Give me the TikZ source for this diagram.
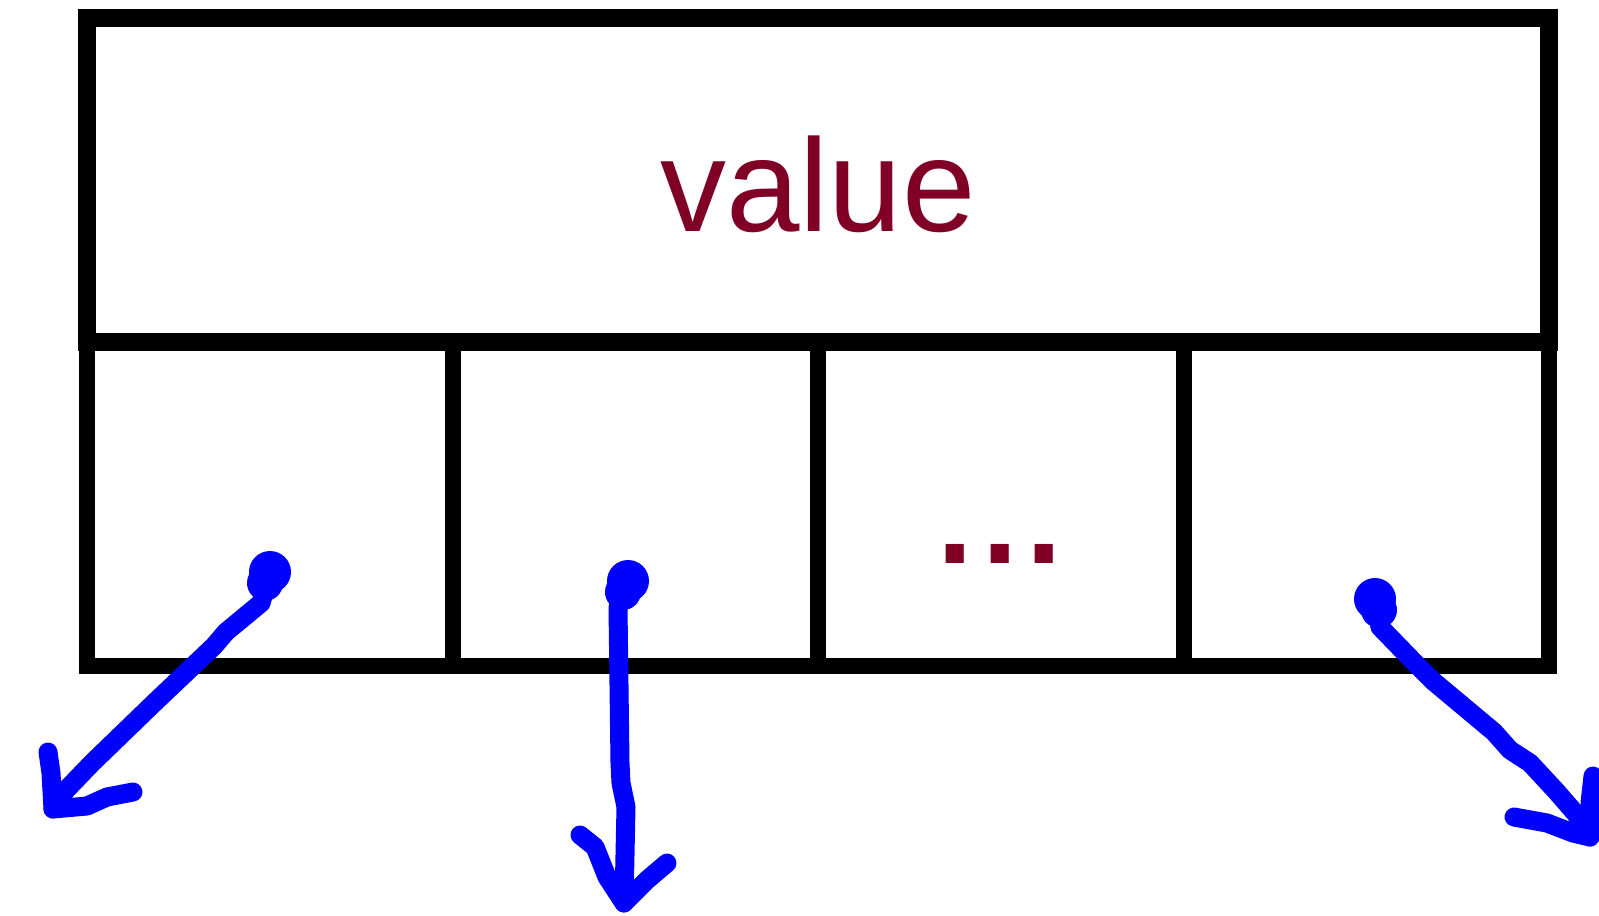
\documentclass[tikz,border=0pt]{standalone}
\usepackage{fontspec}
\setmainfont{Liberation Sans}
\definecolor{maroon}{RGB}{128,0,38}
\definecolor{pen}{RGB}{0,0,255}
\begin{document}
\begin{tikzpicture}[x=1pt,y=-1pt,
  topbox/.style={draw=black, line width=18pt, rectangle, minimum width=1462pt, minimum height=324.5pt, inner sep=0pt, text=maroon, text height=103pt, text depth=0pt, font=\fontsize{132pt}{140pt}\selectfont},
  cell/.style={draw=black, line width=16pt, rectangle, minimum width=365.5pt, minimum height=324pt, inner sep=0pt},
  dotstext/.style={text=maroon, inner sep=0pt, anchor=base, font=\fontsize{128pt}{130pt}\selectfont\bfseries},
  blob/.style={circle, fill=pen, inner sep=0pt, minimum size=42pt},
  hand/.style={draw=pen, line width=19pt, line cap=round, line join=round},
  tail/.style={draw=pen, line width=36pt, line cap=round}]
\useasboundingbox (0,0) rectangle (1599,916);
% cells
\node[cell] (c1) at (269.75,504) {};
\node[cell] (c2) at (635.25,504) {};
\node[cell] (c3) at (1000.75,504) {};
\node[cell] (c4) at (1366.25,504) {};
% top box
\node[topbox] (val) at (818,179.75) {value};
\node[dotstext] (dots) at (1000,563) {.\kern9pt.\kern9pt.};
% blobs
\node[blob] (b1) at (270,572) {};
\node[blob] (b2) at (628,581) {};
\node[blob] (b3) at (1375,599) {};
% tips and barbs
\coordinate (t1) at (53,809);
\coordinate (t1a) at (48,752);
\coordinate (t1b) at (133,792);
\coordinate (t2) at (624,903);
\coordinate (t2a) at (580,835);
\coordinate (t2b) at (667,863);
\coordinate (t3) at (1590,837);
\coordinate (t3a) at (1593,776);
\coordinate (t3b) at (1514,817);
% blob tails
\draw[tail] (b1.center) -- (265,583);
\draw[tail] (b2.center) -- (623,592);
\draw[tail] (b3.center) -- (1379,610);
% shafts
\draw[hand] (b1.center) -- (261,603) -- (226,632) -- (214,646) -- (153,704) -- (122,734) -- (92,763) -- (66,790) -- (t1);
\draw[hand] (b2.center) -- (618,607) -- (620,763) -- (621,783) -- (626,807) -- (t2);
\draw[hand] (b3.center) -- (1380,627) -- (1413,661) -- (1433,681) -- (1494,732) -- (1510,750) -- (1530,763) -- (1556,791) -- (1576,814) -- (t3);
% barbs
\draw[hand] (t1a) -- (51,773) -- (t1) -- (87,806) -- (107,797) -- (t1b);
\draw[hand] (t2a) -- (595,847) -- (607,877) -- (t2) -- (647,880) -- (t2b);
\draw[hand] (t3a) -- (1590,803) -- (t3) -- (1573,833) -- (1547,823) -- (t3b);
\end{tikzpicture}
\end{document}
